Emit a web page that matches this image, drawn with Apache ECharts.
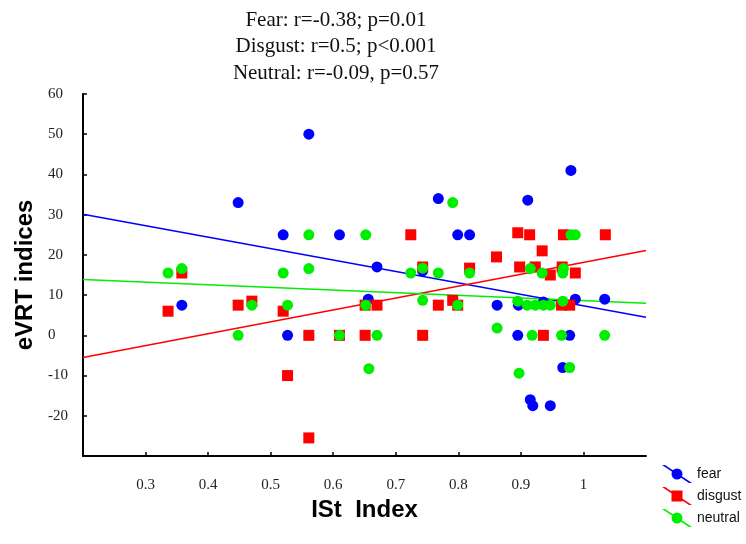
<!DOCTYPE html>
<html>
<head>
<meta charset="utf-8">
<script src="https://cdn.jsdelivr.net/npm/echarts@6/dist/echarts.min.js"></script>
<style>html,body{margin:0;padding:0;background:#fff;}#chart{width:746px;height:544px;}</style>
</head>
<body>
<div id="chart"></div>
<script>
// ---- data ----
const titleLines = ['Fear: r=-0.38; p=0.01', 'Disgust: r=0.5; p<0.001', 'Neutral: r=-0.09, p=0.57'];
const xTicks = [0.2, 0.3, 0.4, 0.5, 0.6, 0.7, 0.8, 0.9, 1.0, 1.1];
const yTicks = [-30, -20, -10, 0, 10, 20, 30, 40, 50, 60];

const fearPoints = [
  [0.358, 7.5], [0.448, 33], [0.52, 25], [0.527, 0], [0.561, 50], [0.61, 25],
  [0.656, 9], [0.67, 17], [0.743, 16], [0.768, 34], [0.799, 25], [0.818, 25],
  [0.862, 7.5], [0.895, 0], [0.896, 7.5], [0.911, 33.6], [0.915, -16], [0.919, -17.5],
  [0.936, 8.3], [0.947, -17.5], [0.967, -8], [0.978, 0], [0.98, 41], [0.987, 9], [1.034, 9]
];
const disgustPoints = [
  [0.336, 6], [0.358, 15.5], [0.448, 7.5], [0.47, 8.5], [0.52, 6], [0.527, -10],
  [0.561, 0], [0.561, -25.5], [0.61, 0], [0.651, 7.5], [0.651, 0], [0.67, 7.5],
  [0.724, 25], [0.743, 17], [0.743, 0], [0.768, 7.5], [0.791, 8.7], [0.799, 7.5],
  [0.818, 16.7], [0.861, 19.5], [0.895, 25.5], [0.898, 17], [0.914, 25], [0.923, 17],
  [0.934, 21], [0.936, 0], [0.947, 15], [0.966, 17], [0.968, 25], [0.965, 7.5],
  [0.978, 7.5], [0.987, 15.5], [1.035, 25]
];
const neutralPoints = [
  [0.336, 15.5], [0.358, 16.6], [0.448, 0], [0.47, 7.5], [0.52, 15.5], [0.527, 7.5],
  [0.561, 25], [0.561, 16.6], [0.61, 0], [0.652, 25], [0.652, 7.5], [0.657, -8.3],
  [0.67, 0], [0.724, 15.5], [0.743, 16.7], [0.743, 8.7], [0.768, 15.5], [0.791, 33],
  [0.799, 7.5], [0.818, 15.5], [0.862, 1.8], [0.895, 8.5], [0.897, -9.4], [0.91, 7.5],
  [0.915, 16.6], [0.918, 0], [0.923, 7.5], [0.934, 15.5], [0.936, 7.5], [0.947, 7.5],
  [0.965, 0], [0.967, 8.5], [0.967, 15.5], [0.968, 16.6], [0.978, -8], [0.98, 25],
  [0.987, 25], [1.034, 0]
];
// regression line end points (x at axis ends)
const fearFit = [[0.2, 30.1], [1.1, 4.5]];
const disgustFit = [[0.2, -5.5], [1.1, 21.1]];
const neutralFit = [[0.2, 13.9], [1.1, 8.0]];

const seriesNames = ['fear', 'disgust', 'neutral'];
const seriesColors = ['#0000ff', '#ff0000', '#00ee00'];

// ---- chart ----
const lineIcon = 'M0,0 L3,0 L30,18 L27,18 Z ';
const circleIcon = 'path://' + lineIcon + 'M9.5,9 A5.5,5.5 0 1,1 20.5,9 A5.5,5.5 0 1,1 9.5,9 Z';
const squareIcon = 'path://' + lineIcon + 'M9.5,3.5 L20.5,3.5 L20.5,14.5 L9.5,14.5 Z';
const icons = [circleIcon, squareIcon, circleIcon];
const symbols = ['circle', 'rect', 'circle'];
const pointSets = [fearPoints, disgustPoints, neutralPoints];
const fits = [fearFit, disgustFit, neutralFit];

const chart = echarts.init(document.getElementById('chart'), null, {renderer: 'canvas'});
const series = [];
fits.forEach((f, i) => {
  series.push({
    name: seriesNames[i] + ' fit', type: 'line', data: f, showSymbol: false, symbol: 'none',
    lineStyle: {color: seriesColors[i], width: 1.5}, silent: true, z: 1
  });
});
pointSets.forEach((p, i) => {
  series.push({
    name: seriesNames[i], type: 'scatter', data: p, symbol: symbols[i], symbolSize: 11,
    itemStyle: {color: seriesColors[i], opacity: 1}, z: 2 + i
  });
});

chart.setOption({
  animation: false,
  title: {
    text: titleLines.join('\n'),
    left: 331, top: 2, textAlign: 'center',
    textStyle: {fontFamily: 'Liberation Serif', fontSize: 21, fontWeight: 'normal', color: '#111', lineHeight: 26.5}
  },
  legend: {
    data: seriesNames.map((n, i) => ({name: n, icon: icons[i]})),
    orient: 'vertical', left: 657, top: 460, itemWidth: 30, itemHeight: 18, itemGap: 4,
    textStyle: {fontFamily: 'Liberation Sans', fontSize: 14, color: '#111'},
    selectedMode: false
  },
  grid: {left: 83, right: 100, top: 94, bottom: 88, containLabel: false},
  xAxis: {
    type: 'value', min: xTicks[0], max: xTicks[xTicks.length - 1], interval: 0.1,
    name: 'ISt  Index', nameLocation: 'middle', nameGap: 26,
    nameTextStyle: {fontFamily: 'Liberation Sans', fontSize: 24, fontWeight: 'bold', color: '#000'},
    axisLine: {onZero: false, lineStyle: {color: '#000', width: 2}},
    axisTick: {inside: true, length: 4, lineStyle: {color: '#000', width: 1.5}},
    axisLabel: {showMinLabel: false, showMaxLabel: false, margin: 22,
      fontFamily: 'Liberation Serif', fontSize: 15, color: '#222',
      formatter: v => String(Math.round(v * 10) / 10)},
    splitLine: {show: false}
  },
  yAxis: {
    type: 'value', min: yTicks[0], max: yTicks[yTicks.length - 1], interval: 10,
    name: 'eVRT indices', nameLocation: 'middle', nameGap: 36,
    nameTextStyle: {fontFamily: 'Liberation Sans', fontSize: 24, fontWeight: 'bold', color: '#000'},
    axisLine: {onZero: false, lineStyle: {color: '#000', width: 2}},
    axisTick: {inside: true, length: 4, lineStyle: {color: '#000', width: 1.5}},
    axisLabel: {showMinLabel: false, margin: 35, align: 'left',
      fontFamily: 'Liberation Serif', fontSize: 15, color: '#222'},
    splitLine: {show: false}
  },
  series: series
});
</script>
</body>
</html>
